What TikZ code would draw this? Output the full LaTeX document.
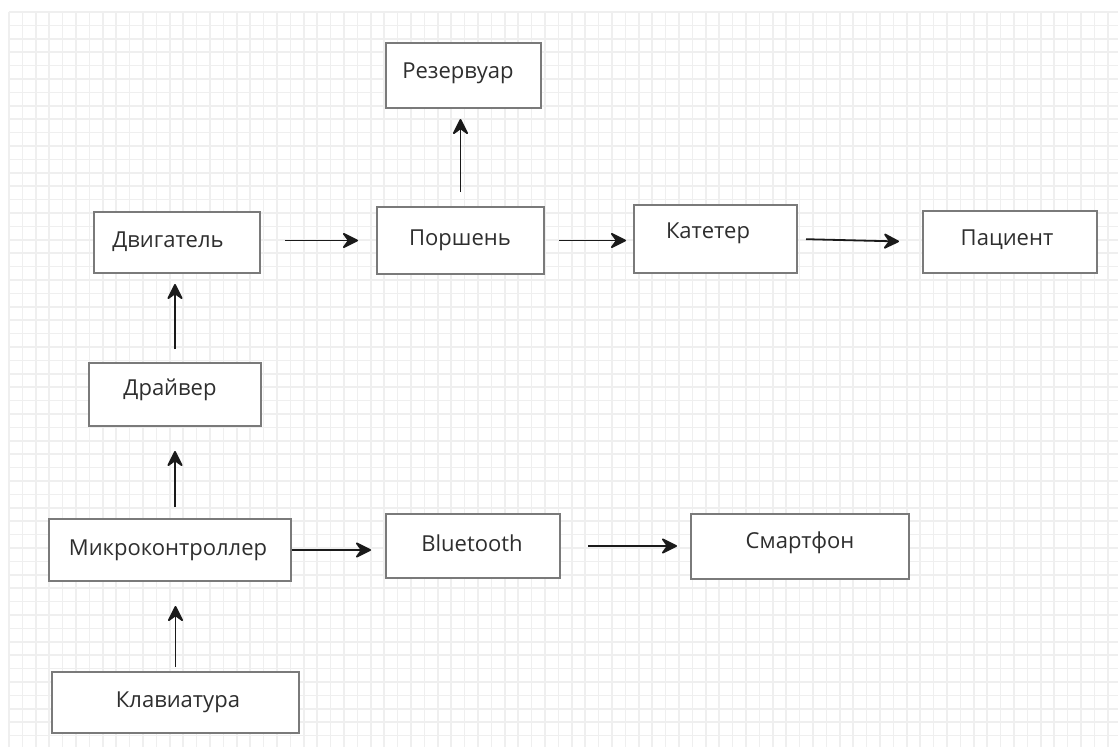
\documentclass[tikz,border=0pt]{standalone}
\usepackage{fontspec}
\setmainfont{Open Sans}
\usetikzlibrary{arrows.meta}
\definecolor{gridline}{HTML}{EFEFEF}
\definecolor{boxline}{HTML}{7A7A7A}
\definecolor{ink}{HTML}{2E2E2E}
\definecolor{arrowline}{HTML}{1A1A1A}
\tikzset{
  blockbox/.style={draw=boxline, line width=2pt, fill=white, rectangle, inner sep=0pt},
  caption/.style={text=ink, font=\fontsize{22}{26}\selectfont, inner sep=0pt},
  flow/.style={draw=arrowline, line width=1.8pt,
    -{Stealth[length=18pt, width=18pt, inset=6.5pt, round]}}
}
\begin{document}
\begin{tikzpicture}[x=1pt, y=-1pt]
  % page and squared background
  \useasboundingbox (0,0) rectangle (1118,747);
  \fill[white] (0,0) rectangle (1118,747);
  \foreach \i in {0,...,82} {
    \draw[gridline, line width=1.5pt] ({9+13.4*\i},12) -- ({9+13.4*\i},747);
  }
  \foreach \j in {0,...,54} {
    \draw[gridline, line width=1.5pt] (9,{12+13.4*\j}) -- (1118,{12+13.4*\j});
  }

  % blocks
  \node[blockbox, minimum width=155pt, minimum height=65pt] (rez)   at (463.5,75.5) {};
  \node[blockbox, minimum width=166pt, minimum height=61pt] (dvig)  at (177,242.5) {};
  \node[blockbox, minimum width=167pt, minimum height=67pt] (porsh) at (460.5,240.5) {};
  \node[blockbox, minimum width=163pt, minimum height=68pt] (katet) at (715.5,239) {};
  \node[blockbox, minimum width=174pt, minimum height=62pt] (pac)   at (1010,242) {};
  \node[blockbox, minimum width=172pt, minimum height=63pt] (drv)   at (175,394.5) {};
  \node[blockbox, minimum width=242pt, minimum height=62pt] (mcu)   at (170,550) {};
  \node[blockbox, minimum width=174pt, minimum height=64pt] (bt)    at (473,546) {};
  \node[blockbox, minimum width=218pt, minimum height=65pt] (phone) at (800,546.5) {};
  \node[blockbox, minimum width=247pt, minimum height=61pt] (kbd)   at (175.5,702.5) {};

  % captions
  \node[caption] (rezT)   at (458,73)   {Резервуар};
  \node[caption] (dvigT)  at (168,242)  {Двигатель};
  \node[caption] (porshT) at (460,240)  {Поршень};
  \node[caption] (katetT) at (708,233)  {Катетер};
  \node[caption] (pacT)   at (1007,240) {Пациент};
  \node[caption] (drvT)   at (170,390)  {Драйвер};
  \node[caption] (mcuT)   at (168,550)  {Микроконтроллер};
  \node[caption] (btT)    at (472,543)  {Bluetooth};
  \node[caption] (phoneT) at (800,543)  {Смартфон};
  \node[caption] (kbdT)   at (178,702)  {Клавиатура};

  % connectors
  \draw[flow, shorten <=24pt, shorten >=18pt] (porsh.west -| dvig.east) -- (porsh.west);
  \draw[flow, shorten <=14pt, shorten >=10pt] (porsh.north) -- (porsh.north |- rez.south);
  \draw[flow, shorten <=14pt, shorten >=7pt]  (porsh.east) -- (porsh.east -| katet.west);
  \draw[flow, shorten <=8pt,  shorten >=23pt] (katet.east) -- (pac.west);
  \draw[flow, shorten <=13pt, shorten >=10pt] (drv.north) -- (drv.north |- dvig.south);
  \draw[flow, shorten <=11pt, shorten >=24pt] (drv.south |- mcu.north) -- (drv.south);
  \draw[flow, shorten <=4pt,  shorten >=24pt] (kbd.north) -- (kbd.north |- mcu.south);
  \draw[flow, shorten >=14pt]                 (mcu.east) -- (mcu.east -| bt.west);
  \draw[flow, shorten <=27pt, shorten >=13pt] (bt.east) -- (bt.east -| phone.west);
\end{tikzpicture}
\end{document}
